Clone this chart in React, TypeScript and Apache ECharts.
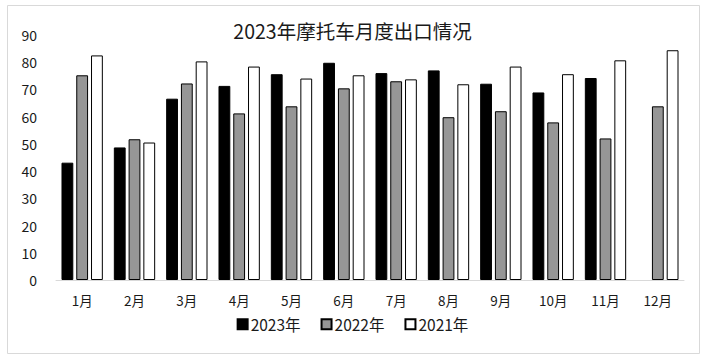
import React, { useEffect, useRef } from "react";
import * as echarts from "echarts";

const months = ["1月", "2月", "3月", "4月", "5月", "6月", "7月", "8月", "9月", "10月", "11月", "12月"];
const s2023: (number | null)[] = [43.1, 48.7, 66.6, 71.3, 75.6, 79.8, 76.0, 77.0, 72.1, 68.9, 74.2, null];
const s2022 = [75.2, 51.7, 72.2, 61.2, 63.8, 70.4, 73.0, 59.8, 62.0, 57.9, 52.0, 63.8];
const s2021 = [82.5, 50.5, 80.3, 78.4, 74.0, 75.2, 73.7, 71.9, 78.4, 75.6, 80.7, 84.4];
const seriesNames = ["2023年", "2022年", "2021年"];
const seriesColors = ["#000000", "#969696", "#ffffff"];

const FONT = "'Noto Sans CJK SC', 'Noto Sans', sans-serif";

export default function App() {
  const ref = useRef<HTMLDivElement>(null);
  useEffect(() => {
    document.body.style.margin = "0";
    const chart = echarts.init(ref.current!, undefined, { renderer: "svg" });
    const data = [s2023, s2022, s2021];
    chart.setOption({
      animation: false,
      backgroundColor: "#ffffff",
      title: {
        text: "2023年摩托车月度出口情况",
        left: "center",
        top: 16,
        textStyle: { fontFamily: FONT, fontSize: 19.5, fontWeight: "normal", color: "#1a1a1a" },
      },
      graphic: [
        {
          type: "rect",
          shape: { x: 7.5, y: 5.5, width: 692, height: 348 },
          style: { fill: "none", stroke: "#d9d9d9", lineWidth: 1 },
          silent: true,
        },
      ],
      legend: {
        bottom: 24,
        left: "center",
        itemWidth: 10,
        itemHeight: 10,
        itemGap: 20,
        icon: "rect",
        textStyle: { fontFamily: FONT, fontSize: 15.5, color: "#1a1a1a", padding: [0, 0, 0, -2] },
        data: seriesNames,
      },
      grid: { left: 56, right: 21, top: 35, bottom: 81 },
      xAxis: {
        type: "category",
        data: months,
        axisLine: { show: true, lineStyle: { color: "#d9d9d9", width: 1 } },
        axisTick: { show: false },
        axisLabel: { fontFamily: FONT, fontSize: 13.5, color: "#1a1a1a", margin: 13 },
      },
      yAxis: {
        type: "value",
        min: 0,
        max: 90,
        interval: 10,
        axisLine: { show: false },
        axisTick: { show: false },
        splitLine: { show: false },
        axisLabel: { fontFamily: FONT, fontSize: 14, color: "#1a1a1a", margin: 19 },
      },
      series: seriesNames.map((name, i) => ({
        name,
        type: "bar",
        data: data[i],
        barGap: "25%",
        barCategoryGap: "21%",
        itemStyle: { color: seriesColors[i], borderColor: "#000000", borderWidth: 1 },
      })),
    });
    return () => chart.dispose();
  }, []);
  return <div ref={ref} style={{ width: 705, height: 361, position: "fixed", left: 0, top: 0 }} />;
}
